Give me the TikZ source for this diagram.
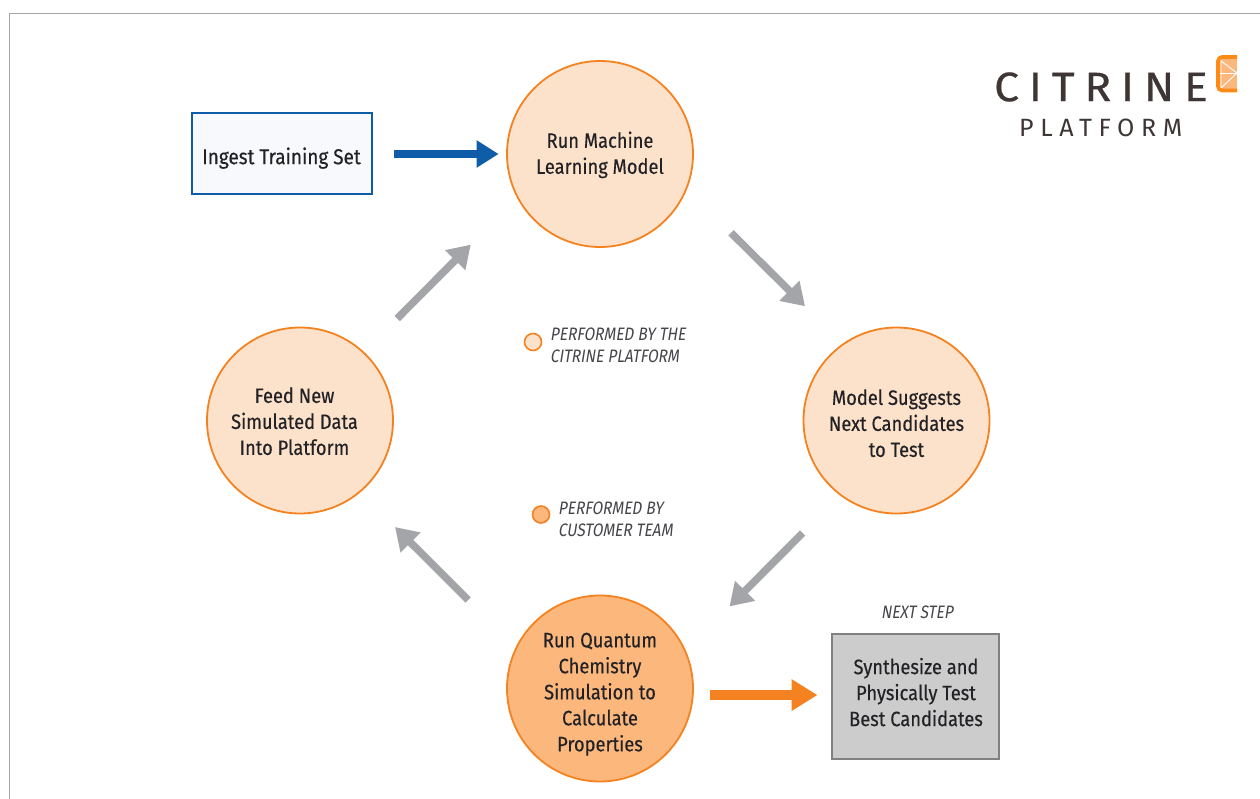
\documentclass[tikz,border=0pt]{standalone}
\usepackage{fontspec}
\setmainfont{Fira Sans}[FakeStretch=0.88,FakeBold=0.35]
\newfontfamily\lgnd{Fira Sans}[FakeStretch=0.85,FakeSlant=0.16,Color=45454A]
\newfontfamily\logoa{Fira Sans}[FakeStretch=1.08,FakeBold=0.6,LetterSpace=24,Color=3E3535]
\newfontfamily\logob{Fira Sans}[LetterSpace=26.5,Color=3E3535]
\usetikzlibrary{arrows.meta}
\definecolor{orng}{HTML}{F58220}
\definecolor{lite}{HTML}{FDE2CB}
\definecolor{midd}{HTML}{FBB77C}
\definecolor{blu}{HTML}{0F5CA8}
\definecolor{pale}{HTML}{F7F9FC}
\definecolor{txt}{HTML}{222226}
\definecolor{gry}{HTML}{A4A5A8}
\definecolor{logoorng}{HTML}{FF8A14}
\newcommand\drop[1]{\rule{0pt}{#1pt}}
\tikzset{
  x=1pt,y=-1pt,
  round/.style={circle,draw=orng,line width=1.8pt,minimum size=186pt,inner sep=0pt,align=center,text=txt,font=\fontsize{20.8}{26}\selectfont},
  platform/.style={round,fill=lite},
  customer/.style={round,fill=midd},
  dot/.style={circle,draw=orng,line width=1.6pt,minimum size=17pt,inner sep=0pt},
  legendtext/.style={anchor=west,align=left,inner sep=0pt,font=\lgnd\fontsize{18}{22}\selectfont},
  grayarrow/.style={draw=gry,line width=7.5pt,-{Triangle[length=22pt,width=27pt]}},
  bluearrow/.style={draw=blu,line width=8pt,-{Triangle[length=22pt,width=26pt]}},
  orangearrow/.style={draw=orng,line width=10pt,-{Triangle[length=26pt,width=30pt]}},
}
\begin{document}
\begin{tikzpicture}
\useasboundingbox (0,0) rectangle (1260,799);
\fill[white] (0,0) rectangle (1260,799);
\draw[line width=1pt,draw=black!35] (9.5,799) -- (9.5,14) -- (1260,14);
\node[platform] (ml) at (600,154) {\drop{18}Run Machine\\Learning Model};
\node[platform] (sug) at (896.5,420.5) {\drop{21}Model Suggests\\Next Candidates\\to Test};
\node[customer] (qc) at (600,688.5) {\drop{26}Run Quantum\\Chemistry\\Simulation to\\Calculate\\Properties};
\node[platform] (feed) at (300,420.5) {\drop{17}\kern-11pt Feed New\\\kern-11pt Simulated Data\\\kern-11pt Into Platform};
\node[draw=blu,fill=pale,line width=2pt,minimum width=180pt,minimum height=81pt,inner sep=0pt,text=txt,font=\fontsize{21.5}{26}\selectfont] (ing) at (281.5,154) {\drop{25}Ingest Training Set};
\node[draw=black!50,fill=black!20,line width=2pt,minimum width=167pt,minimum height=125pt,inner sep=0pt,align=center,text=txt,font=\fontsize{20.8}{26}\selectfont] (syn) at (915,696) {\kern2pt Synthesize and\\\kern2pt Physically Test\\\kern2pt Best Candidates\rule[-8pt]{0pt}{8pt}};
\node[legendtext,anchor=center] (next) at (917,612) {NEXT STEP};
\node[dot,fill=lite] (d1) at (533,342) {};
\node[dot,fill=midd] (d2) at (541,514.5) {};
\node[legendtext] (l1) at (550,345) {PERFORMED BY THE\\CITRINE PLATFORM};
\node[legendtext] (l2) at (558,519) {PERFORMED BY\\CUSTOMER TEAM};
\draw[bluearrow,shorten <=21.5pt,shorten >=7.5pt] (ing.east) -- (ml.west);
\draw[orangearrow,shorten <=16pt,shorten >=13pt] (qc.-4.3) -- (syn.west |- qc.-4.3);
\draw[grayarrow,shorten <=62pt,shorten >=53pt] (ml.-22) -- (sug.125);
\draw[grayarrow,shorten <=53pt,shorten >=62pt] (sug.-127.6) -- (qc.24.6);
\draw[grayarrow,shorten <=67pt,shorten >=49pt] (qc.154.9) -- (feed.-50.4);
\draw[grayarrow,shorten <=47pt,shorten >=65.7pt] (feed.47.6) -- (ml.-152.4);
% logo
\node[anchor=west,inner sep=0pt,font=\logoa\fontsize{41}{41}\selectfont] (citrine) at (994,87) {CITRINE};
\node[anchor=west,inner sep=0pt,font=\logob\fontsize{25}{25}\selectfont] (plat) at (1019,127.5) {PLATFORM};
\fill[midd] (1219,58) rectangle (1237,89);
\draw[white,line width=.9pt] (1220,73.5) -- (1237,73.5) (1221,61) -- (1237,73) -- (1221,88) (1221,60)--(1221,88);
\draw[logoorng,line width=3.6pt,rounded corners=4pt] (1237,57) -- (1218,57) -- (1218,90.5) -- (1237,90.5);
\end{tikzpicture}
\end{document}
